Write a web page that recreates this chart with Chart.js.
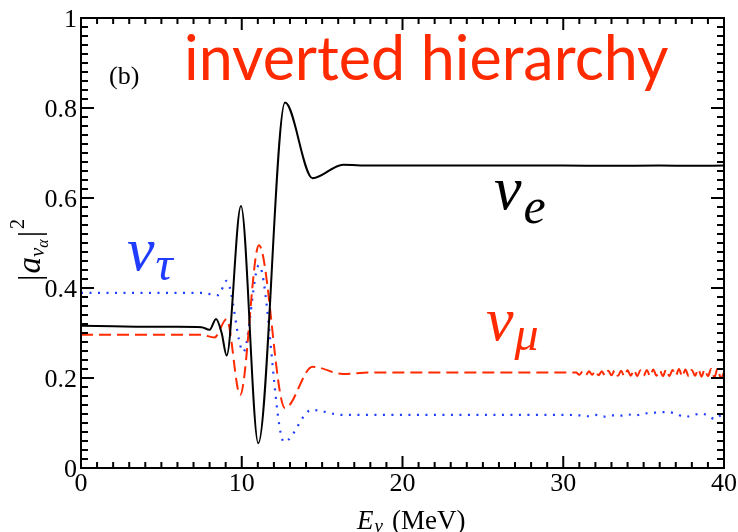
<!DOCTYPE html>
<html>
<head>
<meta charset="utf-8">
<script src="https://cdn.jsdelivr.net/npm/chart.js@4/dist/chart.umd.min.js"></script>
<style>
  html, body { margin: 0; padding: 0; background: #fff; }
  canvas { display: block; }
</style>
</head>
<body>
<canvas id="ampChart" width="738" height="532"></canvas>
<script>
// Survival amplitudes |a|^2 vs neutrino energy (MeV), one pair of arrays per flavour
const energyE = [0, 2, 4, 6, 7.5, 8.0, 8.4, 8.75, 9.06, 9.95, 11.03, 12.69, 14.41, 16.3, 18, 20, 25, 30, 33, 36, 38, 40];
const probE = [0.316, 0.315, 0.314, 0.314, 0.313, 0.307, 0.331, 0.300, 0.250, 0.582, 0.055, 0.812, 0.644, 0.674, 0.672, 0.672, 0.672, 0.672, 0.6715, 0.6722, 0.6715, 0.672];

const energyMu = [0, 4, 7.5, 8.3, 9.06, 9.9, 11.07, 12.69, 14.41, 16.3, 18, 20, 25, 30, 30.8,
  31.0, 31.2, 31.4, 31.6, 31.8, 32.0, 32.2, 32.4, 32.6, 32.8, 33.0, 33.2, 33.4, 33.6, 33.8,
  34.0, 34.2, 34.4, 34.6, 34.8, 35.0, 35.2, 35.4, 35.6, 35.8, 36.0, 36.2, 36.4, 36.6, 36.8,
  37.0, 37.2, 37.4, 37.6, 37.8, 38.0, 38.2, 38.4, 38.6, 38.8, 39.0, 39.2, 39.4, 39.6, 39.8, 40.0];
const probMu = [0.296, 0.296, 0.296, 0.290, 0.331, 0.162, 0.495, 0.133, 0.225, 0.209, 0.212, 0.212, 0.212, 0.212, 0.212,
  0.207, 0.214, 0.206, 0.215, 0.207, 0.216, 0.206, 0.215, 0.205, 0.216, 0.206, 0.217, 0.205, 0.216, 0.204,
  0.217, 0.205, 0.218, 0.204, 0.217, 0.205, 0.218, 0.204, 0.219, 0.205, 0.217, 0.204, 0.219, 0.204, 0.218,
  0.205, 0.220, 0.203, 0.219, 0.204, 0.218, 0.205, 0.220, 0.203, 0.219, 0.204, 0.220, 0.201, 0.221, 0.200, 0.212];

const energyTau = [0, 4, 7.5, 8.54, 9.06, 10.1, 11.07, 12.63, 14.35, 16.3, 18, 20, 25, 30,
  31, 31.5, 32, 32.5, 33, 33.5, 34, 34.5, 35, 35.5, 36, 36.5, 37, 37.5, 38, 38.5, 39, 39.4, 39.7, 40];
const probTau = [0.389, 0.389, 0.389, 0.384, 0.416, 0.258, 0.451, 0.058, 0.129, 0.118, 0.118, 0.118, 0.118, 0.118,
  0.117, 0.115, 0.118, 0.114, 0.117, 0.116, 0.119, 0.117, 0.121, 0.122, 0.124, 0.124, 0.121, 0.114, 0.116, 0.121, 0.117, 0.109, 0.115, 0.121];

const xTicks = [0, 10, 20, 30, 40];
const xTickLabels = ["0", "10", "20", "30", "40"];
const yTicks = [0, 0.2, 0.4, 0.6, 0.8, 1];
const yTickLabels = ["0", "0.2", "0.4", "0.6", "0.8", "1"];

const RED = "#ff2a00";
const BLUE = "#1f3cff";
const SERIF = '"Liberation Serif", "DejaVu Serif", serif';

function toPoints(xs, ys) {
  return xs.map((x, i) => ({ x: x, y: ys[i] }));
}

// Draws a run of text pieces, each with its own font and baseline shift
function drawRun(ctx, x, y, pieces) {
  let cx = x;
  pieces.forEach(([text, font, dy, dx]) => {
    ctx.font = font;
    cx += dx || 0;
    ctx.fillText(text, cx, y + dy);
    cx += ctx.measureText(text).width;
  });
}

// Frame, inward ticks on all four sides, tick labels and the text annotations
const framePlugin = {
  id: "frame",
  afterDraw(chart) {
    const { ctx, chartArea: a } = chart;
    const xs = chart.scales.x;
    const ys = chart.scales.y;
    ctx.save();
    ctx.strokeStyle = "#000";
    ctx.lineWidth = 2;
    ctx.strokeRect(a.left, a.top, a.right - a.left, a.bottom - a.top);

    ctx.beginPath();
    for (let v = 0; v <= 40; v++) {
      const px = xs.getPixelForValue(v);
      const len = v % 10 === 0 ? 12 : 6;
      ctx.moveTo(px, a.bottom); ctx.lineTo(px, a.bottom - len);
      ctx.moveTo(px, a.top); ctx.lineTo(px, a.top + len);
    }
    for (let i = 0; i <= 50; i++) {
      const py = ys.getPixelForValue(i * 0.02);
      const len = i % 10 === 0 ? 13 : 7;
      ctx.moveTo(a.left, py); ctx.lineTo(a.left + len, py);
      ctx.moveTo(a.right, py); ctx.lineTo(a.right - len, py);
    }
    ctx.stroke();

    // tick labels
    ctx.fillStyle = "#000";
    ctx.font = "26px " + SERIF;
    ctx.textBaseline = "alphabetic";
    ctx.textAlign = "center";
    xTicks.forEach((v, i) => ctx.fillText(xTickLabels[i], xs.getPixelForValue(v), a.bottom + 23));
    ctx.textAlign = "right";
    yTicks.forEach((v, i) => ctx.fillText(yTickLabels[i], a.left - 4, ys.getPixelForValue(v) + 9));

    ctx.textAlign = "left";

    // panel tag and heading
    ctx.font = "26px " + SERIF;
    ctx.fillText("(b)", 109, 84);
    ctx.fillStyle = RED;
    ctx.font = '61px Lato, "Open Sans", sans-serif';
    ctx.fillText("inverted hierarchy", 184, 80);

    // flavour labels
    ctx.fillStyle = "#000";
    drawRun(ctx, 494, 209, [["\u03bd", "italic 62px " + SERIF, 0], ["e", "italic 50px " + SERIF, 14, 2]]);
    ctx.fillStyle = BLUE;
    drawRun(ctx, 127, 270, [["\u03bd", "italic 62px " + SERIF, 0], ["\u03c4", "italic 48px " + SERIF, 10, 1]]);
    ctx.fillStyle = RED;
    drawRun(ctx, 486, 340, [["\u03bd", "italic 62px " + SERIF, 0], ["\u03bc", "italic 48px " + SERIF, 10, 1]]);

    // axis titles
    ctx.fillStyle = "#000";
    drawRun(ctx, 357, 529, [
      ["E", "italic 27px " + SERIF, 0],
      ["\u03bd", "italic 19px " + SERIF, 3, 1],
      ["(MeV)", "27px " + SERIF, 0, 9]
    ]);
    ctx.translate(40, 246);
    ctx.rotate(-Math.PI / 2);
    drawRun(ctx, -35, 0, [
      ["|", "32px " + SERIF, 0],
      ["a", "italic 33px " + SERIF, 0, 1],
      ["\u03bd", "italic 21px " + SERIF, 4],
      ["\u03b1", "italic 16px " + SERIF, 8],
      ["|", "32px " + SERIF, 0, 2],
      ["2", "20px " + SERIF, -16, 2]
    ]);
    ctx.restore();
  }
};

const ampChart = new Chart(document.getElementById("ampChart"), {
  type: "line",
  data: {
    datasets: [
      {
        label: "nu_e",
        data: toPoints(energyE, probE),
        borderColor: "#000",
        borderWidth: 2,
      },
      {
        label: "nu_mu",
        data: toPoints(energyMu, probMu),
        borderColor: RED,
        borderWidth: 2,
        borderDash: [12, 6],
      },
      {
        label: "nu_tau",
        data: toPoints(energyTau, probTau),
        borderColor: BLUE,
        borderWidth: 2.2,
        borderDash: [2, 6.5],
      },
    ],
  },
  options: {
    responsive: false,
    animation: false,
    devicePixelRatio: 1,
    layout: { padding: { left: 0, top: 18, right: 14, bottom: 0 } },
    elements: {
      point: { radius: 0 },
      line: { cubicInterpolationMode: "monotone", fill: false },
    },
    plugins: {
      legend: { display: false },
      tooltip: { enabled: false },
    },
    scales: {
      x: {
        type: "linear",
        min: 0,
        max: 40,
        grid: { display: false, drawTicks: false },
        border: { display: false },
        ticks: { display: false },
        afterFit: (s) => { s.height = 64; },
      },
      y: {
        type: "linear",
        min: 0,
        max: 1,
        grid: { display: false, drawTicks: false },
        border: { display: false },
        ticks: { display: false },
        afterFit: (s) => { s.width = 81; },
      },
    },
  },
  plugins: [framePlugin],
});
</script>
</body>
</html>
